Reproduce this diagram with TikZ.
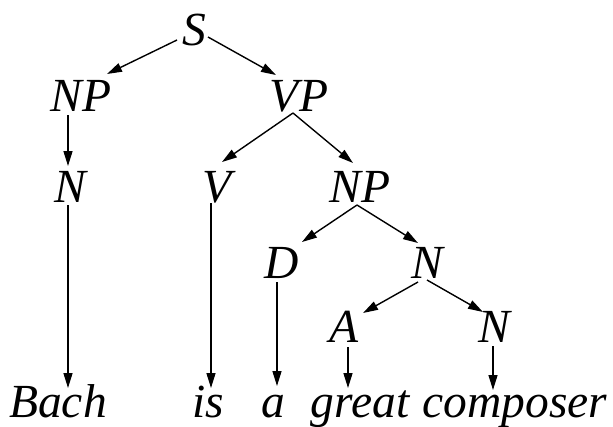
\documentclass[tikz,border=0pt]{standalone}
\usepackage{fontspec}
\setmainfont{Liberation Serif}
\usetikzlibrary{arrows.meta}
\begin{document}
\begin{tikzpicture}[x=1pt,y=-1pt,
  lbl/.style={anchor=base,inner sep=0pt,font=\fontsize{47.5}{50}\selectfont\itshape},
  arr/.style={line width=1.4pt,-{Triangle[length=15pt,width=9pt]}}]
\useasboundingbox[fill=white] (0,0) rectangle (613,426);
% labels
\node[lbl] (S)   at (194,45)  {S};
\node[lbl] (NPa) at (81,111)  {NP};
\node[lbl] (VP)  at (299,111) {VP};
\node[lbl] (Na)  at (70,202)  {N};
\node[lbl] (V)   at (217,202) {V};
\node[lbl] (NPb) at (360,202) {NP};
\node[lbl] (D)   at (282,278) {D};
\node[lbl] (Nb)  at (427,278) {N};
\node[lbl] (A)   at (344,342) {A};
\node[lbl] (Nc)  at (494,342) {N};
\node[lbl] (Bach) at (58,417)  {Bach};
\node[lbl] (is)   at (208,417) {is};
\node[lbl] (a)    at (273,417) {a};
\node[lbl] (great) at (360,417) {great};
\node[lbl] (composer) at (515,417) {composer};
% connectors
\draw[arr] ([shift={(-17,-5)}]S.base) -- ([shift={(26,-37)}]NPa.base);
\draw[arr] ([shift={(14,-8)}]S.base) -- ([shift={(-23,-36)}]VP.base);
\draw[arr] ([shift={(-13,4)}]NPa.base) -- ([shift={(-2,-36)}]Na.base);
\draw[arr] ([shift={(-6,2)}]VP.base) -- ([shift={(5,-40)}]V.base);
\draw[arr] ([shift={(-6,2)}]VP.base) -- ([shift={(-7,-39)}]NPb.base);
\draw[arr] ([shift={(-2,3)}]Na.base) -- ([shift={(10,-29)}]Bach.base);
\draw[arr] ([shift={(-6,1)}]V.base) -- ([shift={(3,-29)}]is.base);
\draw[arr] ([shift={(-3,3)}]NPb.base) -- ([shift={(20,-36)}]D.base);
\draw[arr] ([shift={(-3,3)}]NPb.base) -- ([shift={(-9,-35)}]Nb.base);
\draw[arr] ([shift={(-5,4)}]D.base) -- ([shift={(4,-31)}]a.base);
\draw[arr] ([shift={(-9,4)}]Nb.base) -- ([shift={(19,-29)}]A.base);
\draw[arr] ([shift={(0,2)}]Nb.base) -- ([shift={(-11,-30)}]Nc.base);
\draw[arr] ([shift={(4,5)}]A.base) -- ([shift={(-12,-29)}]great.base);
\draw[arr] ([shift={(-1,4)}]Nc.base) -- ([shift={(-22,-27)}]composer.base);
\end{tikzpicture}
\end{document}
